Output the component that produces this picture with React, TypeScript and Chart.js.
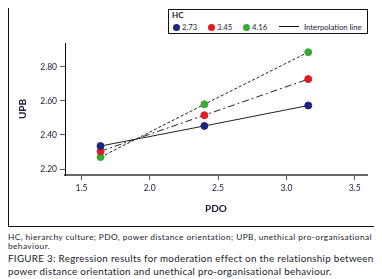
import React, { useEffect, useRef } from "react";
import { Chart, registerables } from "chart.js";

Chart.register(...registerables);

const pdoValues = [1.64, 2.4, 3.16];
const hcLabels = ["2.73", "3.45", "4.16"];
const upbLow = [2.335, 2.453, 2.573];
const upbMid = [2.304, 2.516, 2.728];
const upbHigh = [2.27, 2.58, 2.886];
const xTicks = [1.5, 2.0, 2.5, 3.0, 3.5];
const yTicks = [2.2, 2.4, 2.6, 2.8];

const FONT = "Lato, 'Open Sans', sans-serif";
const TEXT = "#1b1b3a";
const COLORS = ["#1a2580", "#e01b24", "#3aaa35"];

export default function App() {
  const ref = useRef<HTMLCanvasElement | null>(null);

  useEffect(() => {
    const series = [upbLow, upbMid, upbHigh];
    const dashes = [[], [7, 3, 2, 3], [3, 2]];
    const chart = new Chart(ref.current as HTMLCanvasElement, {
      type: "line",
      data: {
        datasets: series.map((s, i) => ({
          label: hcLabels[i],
          data: s.map((y, j) => ({ x: pdoValues[j], y })),
          borderColor: "#222",
          borderWidth: 1,
          borderDash: dashes[i],
          pointBackgroundColor: COLORS[i],
          pointBorderColor: COLORS[i],
          pointRadius: 3.5,
          fill: false,
          tension: 0,
        })),
      },
      options: {
        animation: false,
        responsive: false,
        maintainAspectRatio: false,
        layout: { padding: { top: 38, right: 10, left: 0, bottom: 0 } },
        plugins: { legend: { display: false }, tooltip: { enabled: false } },
        scales: {
          x: {
            type: "linear",
            min: 1.38,
            max: 3.59,
            afterBuildTicks: (s: any) => {
              s.ticks = xTicks.map((v) => ({ value: v }));
            },
            afterFit: (s: any) => {
              s.height = 51;
            },
            grid: { display: true, drawOnChartArea: false, drawTicks: true, tickLength: 5, color: "#555" },
            border: { display: true, color: "#666", width: 2 },
            ticks: {
              padding: 3,
              color: TEXT,
              font: { family: FONT, size: 8.5 },
              callback: (v: any) => Number(v).toFixed(1),
              maxRotation: 0,
            },
            title: {
              display: true,
              text: "PDO",
              color: TEXT,
              font: { family: FONT, size: 10, weight: "bold" },
              padding: { top: 0, bottom: 11 },
            },
          },
          y: {
            type: "linear",
            min: 2.165,
            max: 2.94,
            afterBuildTicks: (s: any) => {
              s.ticks = yTicks.map((v) => ({ value: v }));
            },
            afterFit: (s: any) => {
              s.width = 56;
            },
            grid: { display: true, drawOnChartArea: false, drawTicks: true, tickLength: 5, color: "#555" },
            border: { display: true, color: "#111", width: 1 },
            ticks: {
              padding: 3,
              color: TEXT,
              font: { family: FONT, size: 8.5 },
              callback: (v: any) => Number(v).toFixed(2),
            },
            title: {
              display: true,
              text: "UPB",
              color: TEXT,
              font: { family: FONT, size: 10, weight: "bold" },
              padding: { top: 8, bottom: 0 },
            },
          },
        },
      },
    });
    return () => chart.destroy();
  }, []);

  const dotX = [7, 42, 77];
  const textX = [13, 48, 83];
  const rowY = 17;

  return (
    <div style={{ position: "relative", marginTop: -4, width: 374, height: 279, fontFamily: FONT }}>
      <div
        style={{
          position: "absolute",
          left: 0,
          top: 0,
          width: 368,
          height: 221,
          border: "1px solid #111",
        }}
      >
        <canvas ref={ref} width={368} height={221} style={{ display: "block", width: 368, height: 221 }} />
      </div>
      <div
        style={{
          position: "absolute",
          left: 160,
          top: 5,
          width: 198,
          height: 23,
          border: "1.5px solid #111",
          background: "#fff",
          color: TEXT,
          fontSize: 7.7,
        }}
      >
        <div style={{ position: "absolute", left: 3, top: 0, fontWeight: "bold", fontSize: 8, lineHeight: "10px" }}>HC</div>
        {hcLabels.map((l, i) => (
          <React.Fragment key={l}>
            <span
              style={{
                position: "absolute",
                left: dotX[i] - 3.5,
                top: rowY - 3.5,
                width: 7,
                height: 7,
                borderRadius: "50%",
                background: COLORS[i],
              }}
            />
            <span
              style={{
                position: "absolute",
                left: textX[i],
                top: rowY - 5,
                lineHeight: "10px",
                whiteSpace: "nowrap",
              }}
            >
              {l}
            </span>
          </React.Fragment>
        ))}
        <span
          style={{
            position: "absolute",
            left: 110,
            top: rowY - 1,
            width: 20,
            height: 0,
            borderTop: "1.6px solid #111",
          }}
        />
        <span
          style={{
            position: "absolute",
            left: 135,
            top: rowY - 5,
            lineHeight: "10px",
            whiteSpace: "nowrap",
          }}
        >
          Interpolation line
        </span>
      </div>
      <div
        style={{
          position: "absolute",
          left: 0,
          top: 229,
          fontSize: 8.3,
          letterSpacing: 0.42,
          lineHeight: "8.5px",
          color: "#1b1b2a",
          whiteSpace: "nowrap",
        }}
      >
        <div>HC, hierarchy culture; PDO, power distance orientation; UPB, unethical pro-organisational</div>
        <div>behaviour.</div>
      </div>
      <div
        style={{
          position: "absolute",
          left: 0,
          top: 248,
          fontSize: 9.8,
          letterSpacing: 0.3,
          lineHeight: "13px",
          color: "#1b1b2a",
          whiteSpace: "nowrap",
        }}
      >
        <div>FIGURE 3: Regression results for moderation effect on the relationship between</div>
        <div>power distance orientation and unethical pro-organisational behaviour.</div>
      </div>
    </div>
  );
}
